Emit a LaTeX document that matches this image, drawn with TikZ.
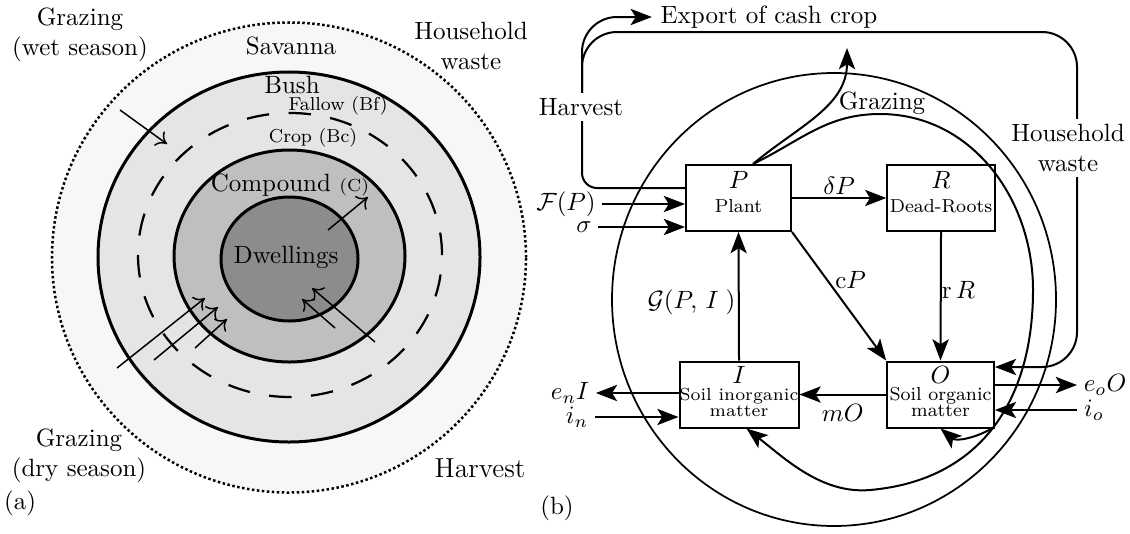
\documentclass[tikz,border=0pt]{standalone}
\usepackage{amsmath}
\usetikzlibrary{arrows.meta}
\tikzset{
	box/.style={draw,line width=0.8pt,minimum width=42pt,minimum height=26.4pt,inner sep=1pt,align=center,text depth=4.8pt,font=\fontsize{7.5}{9.6}\selectfont},
	soilbox/.style={box,text depth=2.4pt,font=\fontsize{7.5}{6.5}\selectfont},
	flow/.style={line width=0.8pt,-{Stealth[length=8.5pt,width=6.5pt,inset=2pt]}},
	ring/.style={line width=1.2pt},
	arr/.style={line width=0.6pt,-{To[length=4pt,width=7pt]}},
	small/.style={font=\fontsize{7.5}{9}\selectfont},
	side/.style={inner sep=0.5pt},
}
\begin{document}
\begin{tikzpicture}[x=0.4pt,y=-0.4pt]
		\useasboundingbox (0,0) rectangle (1130,533);
		% (a) zones
		\draw[line width=1pt,dash pattern=on 1pt off 1pt,fill=black!3] (289,257.5) circle[x radius=94.8pt,y radius=94pt];
		\draw[ring,fill=black!10] (289,257) circle[x radius=76.4pt,y radius=74pt];
		\draw[line width=0.9pt,dash pattern=on 9pt off 7.8pt] (290,255) circle[x radius=60.8pt,y radius=56.8pt];
		\draw[ring,fill=black!25] (289.5,256) circle[x radius=46.2pt,y radius=42.4pt];
		\draw[ring,fill=black!45] (289.5,259) circle[x radius=27.4pt,y radius=24.8pt];
		\node[align=center] (gzw) at (80,35) {Grazing\\(wet season)};
		\node[align=center] (hhw) at (471,46) {Household\\waste};
		\node (sav) at (291,46) {Savanna};
		\node (bush) at (292,85) {Bush};
		\node[small] (fal) at (338,106) {Fallow (Bf)};
		\node[small] (crp) at (313,138) {Crop (Bc)};
		\node (cmp) at (290,185) {Compound {\scriptsize(C)}};
		\node (dwl) at (286,257) {Dwellings};
		\node[align=center] (gzd) at (79,456) {Grazing\\(dry season)};
		\node[font=\fontsize{11}{13}\selectfont] (hva) at (480,468) {Harvest};
		\node (la) at (20,503) {(a)};
		\draw[arr] (120,110)--(167,144);
		\draw[arr] (328,230)--(368,197);
		\draw[arr] (117,368)--(205,298);
		\draw[arr] (154,360)--(218,307);
		\draw[arr] (195,348)--(227,319);
		\draw[arr] (375,342)--(312,288);
		\draw[arr] (335,328)--(302,299);
		% (b) flows
		\node[box] (P) at (738.5,198) {{\normalsize$P$}\\Plant};
		\node[box] (R) at (941,198) {{\normalsize$R$}\\Dead-Roots};
		\node[soilbox,inner xsep=0pt,font=\fontsize{7}{6.5}\selectfont] (I) at (739,394.5) {{\normalsize$I$}\\Soil inorganic\\matter};
		\node[soilbox] (O) at (940.5,394.5) {{\normalsize$O$}\\Soil organic\\matter};
		\node (exp) at (769,17) {Export of cash crop};
		\node[side] (FP) at (566,204) {$\mathcal{F}(P)$};
		\node[side] (sg) at (584,227) {$\sigma$};
		\node[side] (enI) at (570,393) {$e_nI$};
		\node[side] (inn) at (577,417) {$i_n$};
		\node[side] (eoO) at (1105,385) {$e_oO$};
		\node[side] (io) at (1094,410) {$i_o$};
		\node (grz) at (882,103) {Grazing};
		\node (lb) at (557,508) {(b)};
		\draw[flow] (P.east)--node[above,inner sep=1pt] (dP) {$\delta P$}(R.west);
		\draw[flow] (R.south)--node[pos=0.45,right,inner sep=0pt] (rR) {$\mathrm{r}\,R$}(O.north);
		\draw[flow] (P.south east)--node[pos=0.37,right,inner sep=3pt] (cP) {$\mathrm{c}P$}(O.north west);
		\draw[flow] (I.north)--node[pos=0.45,left,inner sep=1pt] (G) {$\mathcal{G}(P,\,I\;)$}(P.south);
		\draw[flow] (O.west)--node[below,inner sep=3.5pt] (mO) {$mO$}(I.east);
		\draw[flow] ([xshift=2pt]FP.east)--(FP -| P.west);
		\draw[flow] ([xshift=2pt]sg.east)--(sg -| P.west);
		\draw[flow] (I.west |- enI)--([xshift=2pt]enI.east);
		\draw[flow] ([xshift=2pt]inn.east)--(inn -| I.west);
		\draw[flow] (O.east |- eoO)--([xshift=-2pt]eoO.west);
		\draw[flow] ([xshift=-2pt]io.west)--(io -| O.east);
		\coordinate (hsplit) at (582,100);
		\coordinate (hhtop) at (1077,32);
		\draw[line width=0.8pt,rounded corners=6pt] ([yshift=4pt]P.west) -| (hsplit);
		\draw[flow,rounded corners=14pt] (hsplit) |- (exp.west);
		\draw[flow,rounded corners=14pt] (hsplit) |- (hhtop) |- ([yshift=11pt]O.east);
		\node[fill=white,inner sep=2pt] (harv) at (581,107) {Harvest};
		\node[fill=white,align=center,inner sep=2pt] (hhwb) at (1068,148) {Household\\waste};
		\draw[line width=0.7pt] (834,299.5) circle[x radius=88.8pt,y radius=90.6pt];
		\coordinate (gzs) at ([xshift=5.8pt]P.north);
		\coordinate (gze) at (847,48);
		\draw[flow] (gzs) to[out=40,in=-90] (gze);
		\draw[flow] (gzs) to[out=26,in=180] (880,114) to[out=0,in=90] (1033,290) to[out=-90,in=5,looseness=1.1] coordinate[pos=0.5] (hk) (870,490) to[out=185,in=-38,looseness=0.9] ([xshift=3pt]I.south);
		\draw[flow] (hk) to[out=-150,in=-40] (O.south);
	\end{tikzpicture}
\end{document}
